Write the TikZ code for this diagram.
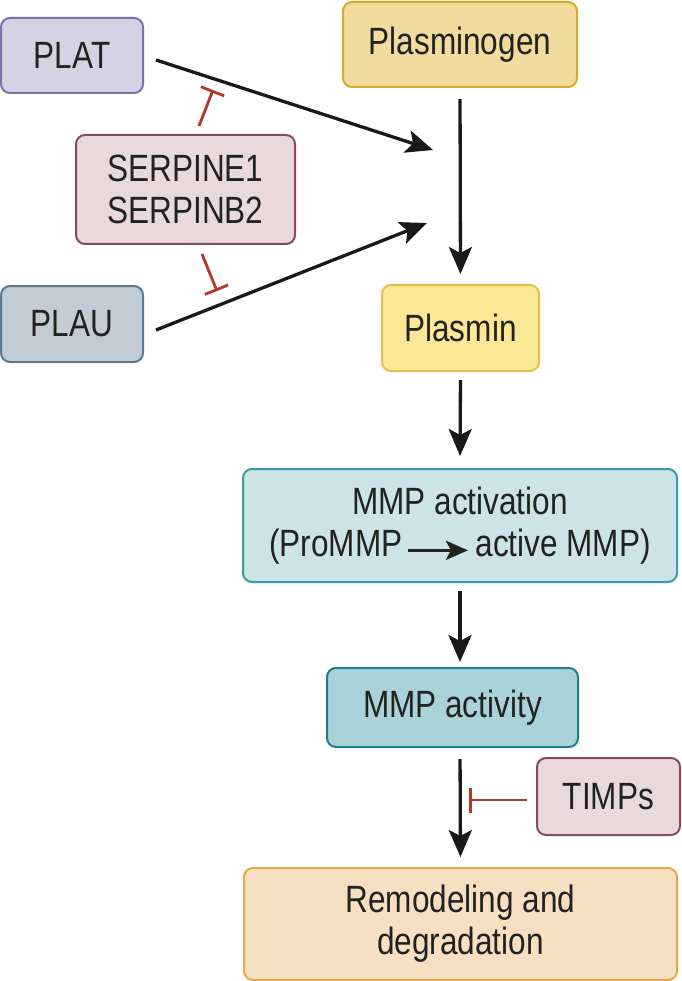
\documentclass[tikz,border=0pt]{standalone}
\usepackage{fontspec}
\setmainfont{Liberation Sans}[FakeStretch=0.83]
\usetikzlibrary{arrows.meta,calc}
\definecolor{txt}{HTML}{222222}
\definecolor{platF}{HTML}{D5D3E3}\definecolor{platD}{HTML}{7A72A8}
\definecolor{serpF}{HTML}{E8D9DD}\definecolor{serpD}{HTML}{8B4A5C}
\definecolor{plauF}{HTML}{C2CCD4}\definecolor{plauD}{HTML}{5F7A8C}
\definecolor{pgF}{HTML}{F1DC9E}\definecolor{pgD}{HTML}{D8AA2E}
\definecolor{pmF}{HTML}{FBE794}\definecolor{pmD}{HTML}{E6BE4C}
\definecolor{maF}{HTML}{CDE3E8}\definecolor{maD}{HTML}{3A9AA5}
\definecolor{mvF}{HTML}{A9D3D9}\definecolor{mvD}{HTML}{1E7F8C}
\definecolor{rdF}{HTML}{F7E0C2}\definecolor{rdD}{HTML}{E2AA4E}
\definecolor{inhC}{HTML}{B5372B}
\begin{document}
\begin{tikzpicture}[x=1pt,y=-1pt,
  box/.style={draw, line width=2pt, rounded corners=9pt, inner sep=0pt, align=center,
    text=txt, font=\fontsize{38}{42}\selectfont},
  arr/.style={draw=black!90, line width=3.3pt, -{Stealth[length=27pt,width=23pt,inset=6pt]}},
  inh/.style={draw=inhC, line width=2.8pt, -{Bar[width=25pt,line width=2.8pt]}}]
\useasboundingbox (0,0) rectangle (681,981);
% nodes
\node[box, fill=platF, draw=platD, minimum width=142pt, minimum height=75pt] (plat) at (72,55.5) {PLAT};
\node[box, fill=serpF, draw=serpD, minimum width=219pt, minimum height=109pt] (serp) at (185.5,189.5) {SERPINE1\\SERPINB2};
\node[box, fill=plauF, draw=plauD, minimum width=142pt, minimum height=76pt] (plau) at (72,324) {PLAU};
\node[box, fill=pgF, draw=pgD, minimum width=234pt, minimum height=85pt] (pg) at (460,44.5) {Plasminogen};
\node[box, fill=pmF, draw=pmD, minimum width=157pt, minimum height=86pt] (pm) at (460.5,328) {Plasmin};
\node[box, fill=maF, draw=maD, minimum width=434pt, minimum height=113pt] (ma) at (460,525.5)
  {MMP activation\\(ProMMP\hspace{4pt}\tikz[baseline=-0.3ex]\draw[line width=3.2pt,-{Stealth[length=22pt,width=19pt,inset=5pt]}] (0,0)--(60pt,0);\hspace{6pt}active MMP)};
\node[box, fill=mvF, draw=mvD, minimum width=251pt, minimum height=79pt] (mv) at (452.5,707.5) {MMP activity};
\node[box, fill=serpF, draw=serpD, minimum width=143pt, minimum height=77pt] (timps) at (608.5,796.5) {TIMPs};
\node[box, fill=rdF, draw=rdD, minimum width=433pt, minimum height=112pt] (rd) at (460.5,924) {Remodeling and\\degradation};
% free ends
\coordinate (t1) at (433,150);
\coordinate (t2) at (427,223);
\coordinate (b1) at (213,90);
\coordinate (b2) at (217,291);
\coordinate (b3) at (469,800);
% connectors
\draw[arr] ($(plat.east)+(12,4.5)$) -- (t1);
\draw[arr] ($(plau.east)+(12,6)$) -- (t2);
\draw[inh] ($(serp.north)+(13.5,-8)$) -- (b1);
\draw[inh] ($(serp.south)+(16.5,9)$) -- (b2);
\draw[arr, shorten <=11pt, shorten >=10pt] (pg.south) -- (pm.north);
\draw[arr, shorten <=8pt, shorten >=12pt] (pm.south) -- (ma.north);
\draw[arr, shorten <=8pt, shorten >=5pt] (ma.south) -- (ma.south |- mv.north);
\draw[arr, shorten <=11pt, shorten >=10pt] (ma.south |- mv.south) -- (rd.north);
\draw[inh, shorten <=9pt] (timps.west |- b3) -- (b3);
\end{tikzpicture}
\end{document}
